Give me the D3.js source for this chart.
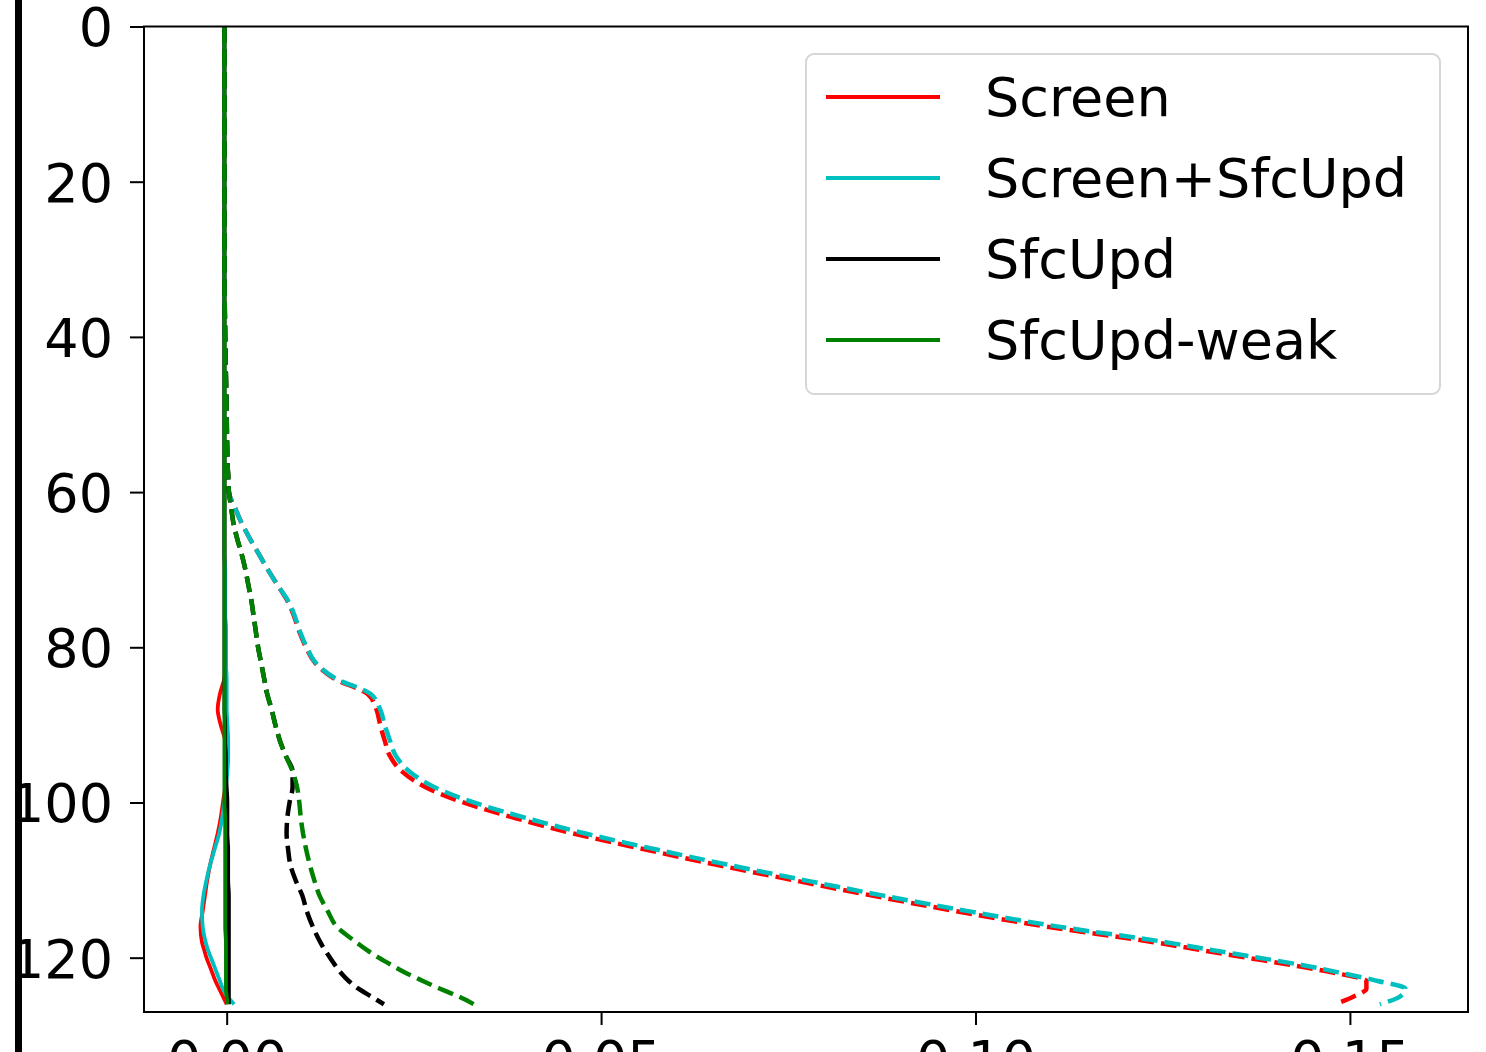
<!DOCTYPE html>
<html lang="en">
<head>
  <meta charset="UTF-8" />
  <title>Profiles</title>
  <script src="https://d3js.org/d3.v7.min.js"></script>
  <style>
    body {
      margin: 0;
      background: #fff;
    }
    svg {
      display: block;
      font-family: 'DejaVu Sans', sans-serif;
    }
    .tick text {
      font-size: 54px;
      fill: #000;
    }
    .tick line {
      stroke: #000;
      stroke-width: 2;
    }
  </style>
</head>
<body>

<svg width="1486" height="1052"></svg>

<script>
// model levels (y) shared by all profiles
const levels = [0, 10, 20, 30, 40, 50, 56, 58, 60, 62, 64, 66, 68, 70, 72, 74, 76, 78, 80, 82,
  84, 86, 88, 90, 92, 94, 96, 98, 100, 102, 104, 106, 108, 110, 112, 114, 116, 118,
  119, 120, 121, 122, 123, 124, 125, 126];

// solid profiles
const screenSolid = [-0.0003, -0.0003, -0.0003, -0.0003, -0.0003, -0.0003, -0.0003, -0.0003, -0.0003, -0.0003, -0.0003, -0.0003, -0.0003, -0.0002, -0.0002, -0.0002, -0.0002, -0.0001, -0.0001, -0.0001,
  -0.0003, -0.0009, -0.0012, -0.0008, -0.0002, 0, 0, -0.0002, -0.0005, -0.0008, -0.0012, -0.0017, -0.0022, -0.0026, -0.0029, -0.0032, -0.0035, -0.0033,
  -0.0030, -0.0027, -0.0023, -0.0019, -0.0015, -0.0010, -0.0005, 0];
const screenSfcSolid = [-0.0003, -0.0003, -0.0003, -0.0003, -0.0003, -0.0003, -0.0003, -0.0003, -0.0003, -0.0003, -0.0003, -0.0003, -0.0003, -0.0002, -0.0002, -0.0002, -0.0002, -0.0001, -0.0001, -0.0001,
  0, 0, 0, 0.0001, 0.0002, 0.0002, 0.0001, -0.0001, -0.0003, -0.0006, -0.0010, -0.0016, -0.0022, -0.0027, -0.0031, -0.0033, -0.0032, -0.0028,
  -0.0025, -0.0021, -0.0017, -0.0013, -0.0009, -0.0005, 0.0001, 0.0010];
const sfcUpdSolid = [-0.0003, -0.0003, -0.0003, -0.0003, -0.0003, -0.0003, -0.0003, -0.0003, -0.0003, -0.0003, -0.0003, -0.0003, -0.0003, -0.0003, -0.0003, -0.0003, -0.0003, -0.0003, -0.0003, -0.0003,
  -0.0003, -0.0003, -0.0003, -0.0002, -0.0002, -0.0001, -0.0001, 0, 0.0001, 0.0001, 0.0001, 0.0002, 0.0002, 0.0002, 0.0003, 0.0003, 0.0003, 0.0003,
  0.0003, 0.0003, 0.0003, 0.0003, 0.0003, 0.0003, 0.0003, 0.0003];
const weakSolid = [-0.0003, -0.0003, -0.0003, -0.0003, -0.0003, -0.0003, -0.0003, -0.0003, -0.0003, -0.0003, -0.0003, -0.0003, -0.0003, -0.0003, -0.0003, -0.0003, -0.0003, -0.0003, -0.0003, -0.0003,
  -0.0003, -0.0003, -0.0003, -0.0003, -0.0003, -0.0003, -0.0003, -0.0003, -0.0003, -0.0002, -0.0002, -0.0002, -0.0002, -0.0002, -0.0002, -0.0002, -0.0002, -0.0001,
  -0.0001, -0.0001, -0.0001, -0.0001, -0.0001, -0.0001, 0, 0.0001];

// dashed profiles
const screenDashed = [-0.0003, -0.0003, -0.0003, -0.0003, -0.0002, 0.0000, 0.0001, 0.0002, 0.0003, 0.0011, 0.0020, 0.0031, 0.0043, 0.0055, 0.0068, 0.0081, 0.0090, 0.0097, 0.0106, 0.0118,
  0.0143, 0.0188, 0.0200, 0.0205, 0.0211, 0.0218, 0.0234, 0.0265, 0.0316, 0.0385, 0.0463, 0.0556, 0.0653, 0.0756, 0.0862, 0.0974, 0.1095, 0.1238,
  0.1300, 0.1362, 0.1425, 0.1482, 0.1522, 0.1522, 0.1505, 0.1480];
const screenSfcDashed = [-0.0003, -0.0003, -0.0003, -0.0003, -0.0002, 0.0000, 0.0001, 0.0002, 0.0003, 0.0011, 0.0020, 0.0031, 0.0043, 0.0055, 0.0068, 0.0082, 0.0091, 0.0098, 0.0107, 0.0119,
  0.0145, 0.0192, 0.0205, 0.0211, 0.0218, 0.0226, 0.0244, 0.0277, 0.0330, 0.0400, 0.0479, 0.0571, 0.0668, 0.0771, 0.0877, 0.0990, 0.1111, 0.1254,
  0.1315, 0.1378, 0.1439, 0.1490, 0.1537, 0.1574, 0.1567, 0.1540];
const sfcUpdDashed = [-0.0003, -0.0003, -0.0003, -0.0003, -0.0002, 0.0000, 0.0001, 0.0002, 0.0003, 0.0006, 0.0009, 0.0014, 0.0020, 0.0025, 0.0029, 0.0033, 0.0036, 0.0039, 0.0042, 0.0046,
  0.0050, 0.0054, 0.0060, 0.0065, 0.0071, 0.0079, 0.0088, 0.0088, 0.0084, 0.0081, 0.0080, 0.0082, 0.0085, 0.0092, 0.0101, 0.0107, 0.0115, 0.0125,
  0.0131, 0.0138, 0.0145, 0.0153, 0.0163, 0.0176, 0.0193, 0.0210];
const weakDashed = [-0.0003, -0.0003, -0.0003, -0.0003, -0.0002, 0.0000, 0.0001, 0.0002, 0.0003, 0.0006, 0.0009, 0.0014, 0.0020, 0.0025, 0.0029, 0.0033, 0.0036, 0.0039, 0.0042, 0.0046,
  0.0050, 0.0054, 0.0060, 0.0065, 0.0071, 0.0079, 0.0088, 0.0094, 0.0097, 0.0099, 0.0102, 0.0106, 0.0111, 0.0117, 0.0124, 0.0135, 0.0147, 0.0173,
  0.0187, 0.0203, 0.0221, 0.0240, 0.0262, 0.0285, 0.0310, 0.0330];

const seriesNames = ["Screen", "Screen+SfcUpd", "SfcUpd", "SfcUpd-weak"];
const seriesColors = ["#ff0000", "#00bfbf", "#000000", "#008000"];
const xTicks = [0, 0.05, 0.10, 0.15];
const yTicks = [0, 20, 40, 60, 80, 100, 120];

const lines = [
  { v: screenSolid, c: 0, dash: false },
  { v: screenDashed, c: 0, dash: true },
  { v: screenSfcSolid, c: 1, dash: false },
  { v: screenSfcDashed, c: 1, dash: true },
  { v: sfcUpdSolid, c: 2, dash: false },
  { v: sfcUpdDashed, c: 2, dash: true },
  { v: weakSolid, c: 3, dash: false },
  { v: weakDashed, c: 3, dash: true }
];

const svg = d3.select("svg");
const pLeft = 144, pRight = 1468, pTop = 26.5, pBottom = 1012;

const x = d3.scaleLinear().domain([-0.01104, 0.16577]).range([pLeft, pRight]);
const y = d3.scaleLinear().domain([0, 127]).range([pTop, pBottom]);

svg.append("defs").append("clipPath").attr("id", "plotclip")
  .append("rect").attr("x", pLeft).attr("y", pTop).attr("width", pRight - pLeft).attr("height", pBottom - pTop);

const line = d3.line()
  .x(d => x(d[1]))
  .y(d => y(d[0]))
  .curve(d3.curveMonotoneY);

const plot = svg.append("g").attr("clip-path", "url(#plotclip)");
lines.forEach(s => {
  plot.append("path")
    .datum(levels.map((l, i) => [l, s.v[i]]))
    .attr("d", line)
    .attr("fill", "none")
    .attr("stroke", seriesColors[s.c])
    .attr("stroke-width", s.dash ? 4.5 : 3.8)
    .attr("stroke-dasharray", s.dash ? "16,7" : null);
});

// axes
const yAxis = svg.append("g")
  .attr("transform", `translate(${pLeft},0)`)
  .call(d3.axisLeft(y).tickValues(yTicks).tickSize(14).tickPadding(17).tickFormat(d3.format("d")));
yAxis.select(".domain").remove();
yAxis.selectAll("text").attr("font-family", "DejaVu Sans").attr("dy", "0.36em");

const xAxis = svg.append("g")
  .attr("transform", `translate(0,${pBottom})`)
  .call(d3.axisBottom(x).tickValues(xTicks).tickSize(13).tickPadding(16).tickFormat(d3.format(".2f")));
xAxis.select(".domain").remove();
xAxis.selectAll("text").attr("font-family", "DejaVu Sans");

svg.append("rect")
  .attr("x", pLeft).attr("y", pTop)
  .attr("width", pRight - pLeft).attr("height", pBottom - pTop)
  .attr("fill", "none").attr("stroke", "#000").attr("stroke-width", 2);

// legend
const lg = svg.append("g");
lg.append("rect")
  .attr("x", 806).attr("y", 54).attr("width", 634).attr("height", 340)
  .attr("rx", 8)
  .attr("fill", "#fff").attr("fill-opacity", 0.8)
  .attr("stroke", "#d6d6d6").attr("stroke-width", 2);

seriesNames.forEach((name, i) => {
  const ly = 97 + i * 81;
  lg.append("line")
    .attr("x1", 826).attr("x2", 940).attr("y1", ly).attr("y2", ly)
    .attr("stroke", seriesColors[i]).attr("stroke-width", 4);
  lg.append("text")
    .attr("x", 985).attr("y", ly).attr("dy", "0.36em")
    .attr("font-size", 54).attr("fill", "#000")
    .text(name);
});

// edge of the neighbouring panel
svg.append("rect").attr("x", 15).attr("y", 0).attr("width", 7).attr("height", 1052).attr("fill", "#000");
</script>

</body>
</html>
